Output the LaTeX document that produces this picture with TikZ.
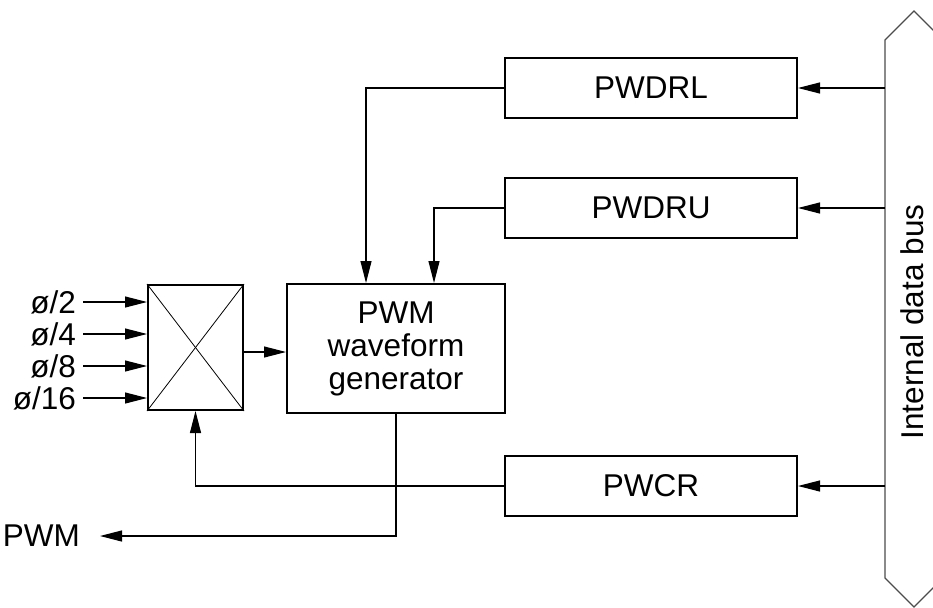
\documentclass[tikz,border=0pt]{standalone}
\usepackage{fontspec}
\setmainfont{Liberation Sans}
\usetikzlibrary{arrows.meta}
\begin{document}
\begin{tikzpicture}[x=1pt,y=-1pt,
  txt/.style={font=\fontsize{31.5}{33}\selectfont},
  regbox/.style={draw, line width=2pt, minimum width=292pt, minimum height=60pt, inner sep=0pt, txt},
  conn/.style={line width=1.1pt},
  arr/.style={conn, -{Triangle[length=22pt,width=11pt]}},
  lbl/.style={txt, inner sep=0pt}]
\useasboundingbox (0,0) rectangle (933,607);
\begin{scope}
\clip (0,0) rectangle (933,607);
% bus
\draw[line width=1.2pt, black!70] (943,40) -- (914,11) -- (885,40) -- (885,578) -- (914,607) -- (943,578) -- cycle;
\end{scope}
\node[lbl, rotate=90, anchor=base] (busl) at (923,322) {Internal data bus};

% registers
\node[regbox] (pwdrl) at (651,88) {PWDRL};
\node[regbox] (pwdru) at (651,208) {PWDRU};
\node[regbox] (pwcr) at (651,486) {PWCR};

% PWM waveform generator
\node[draw, line width=2pt, minimum width=218pt, minimum height=129pt, inner sep=0pt, txt, align=center] (gen) at (396,348.5) {PWM\\waveform\\generator};

% selector
\node[draw, line width=2pt, minimum width=95pt, minimum height=125pt, inner sep=0pt] (mux) at (195.5,347.5) {};
\draw[line width=0.8pt] (mux.north west) -- (mux.south east);
\draw[line width=0.8pt] (mux.north east) -- (mux.south west);

% inputs
\node[lbl, anchor=east] (i2) at (76,302) {ø/2};
\node[lbl, anchor=east] (i4) at (76,334) {ø/4};
\node[lbl, anchor=east] (i8) at (76,366) {ø/8};
\node[lbl, anchor=east] (i16) at (76,398) {ø/16};
\foreach \n/\y in {i2/302,i4/334,i8/366,i16/398}{
  \coordinate (s\n) at (83,\y);
  \draw[arr] (s\n) -- (s\n -| mux.west);
}

% mux -> generator
\coordinate (mo) at (mux.east |- 0,352);
\draw[arr] (mo) -- (mo -| gen.west);

% bus -> registers
\coordinate (b1) at (885,88);
\coordinate (b2) at (885,208);
\coordinate (b3) at (885,486);
\draw[arr] (b1) -- (pwdrl.east);
\draw[arr] (b2) -- (pwdru.east);
\draw[arr] (b3) -- (pwcr.east);

% registers -> generator
\draw[arr] (pwdrl.west) -| (gen.north -| 366,0);
\draw[arr] (pwdru.west) -| (gen.north -| 434,0);

% PWCR -> mux
\draw[arr] (pwcr.west) -| (mux.south);

% output
\node[lbl, anchor=east] (pwm) at (80,536) {PWM};
\coordinate (oc) at (396,536);
\draw[arr] (gen.south) -- (oc) -- (100,536);
\end{tikzpicture}
\end{document}
